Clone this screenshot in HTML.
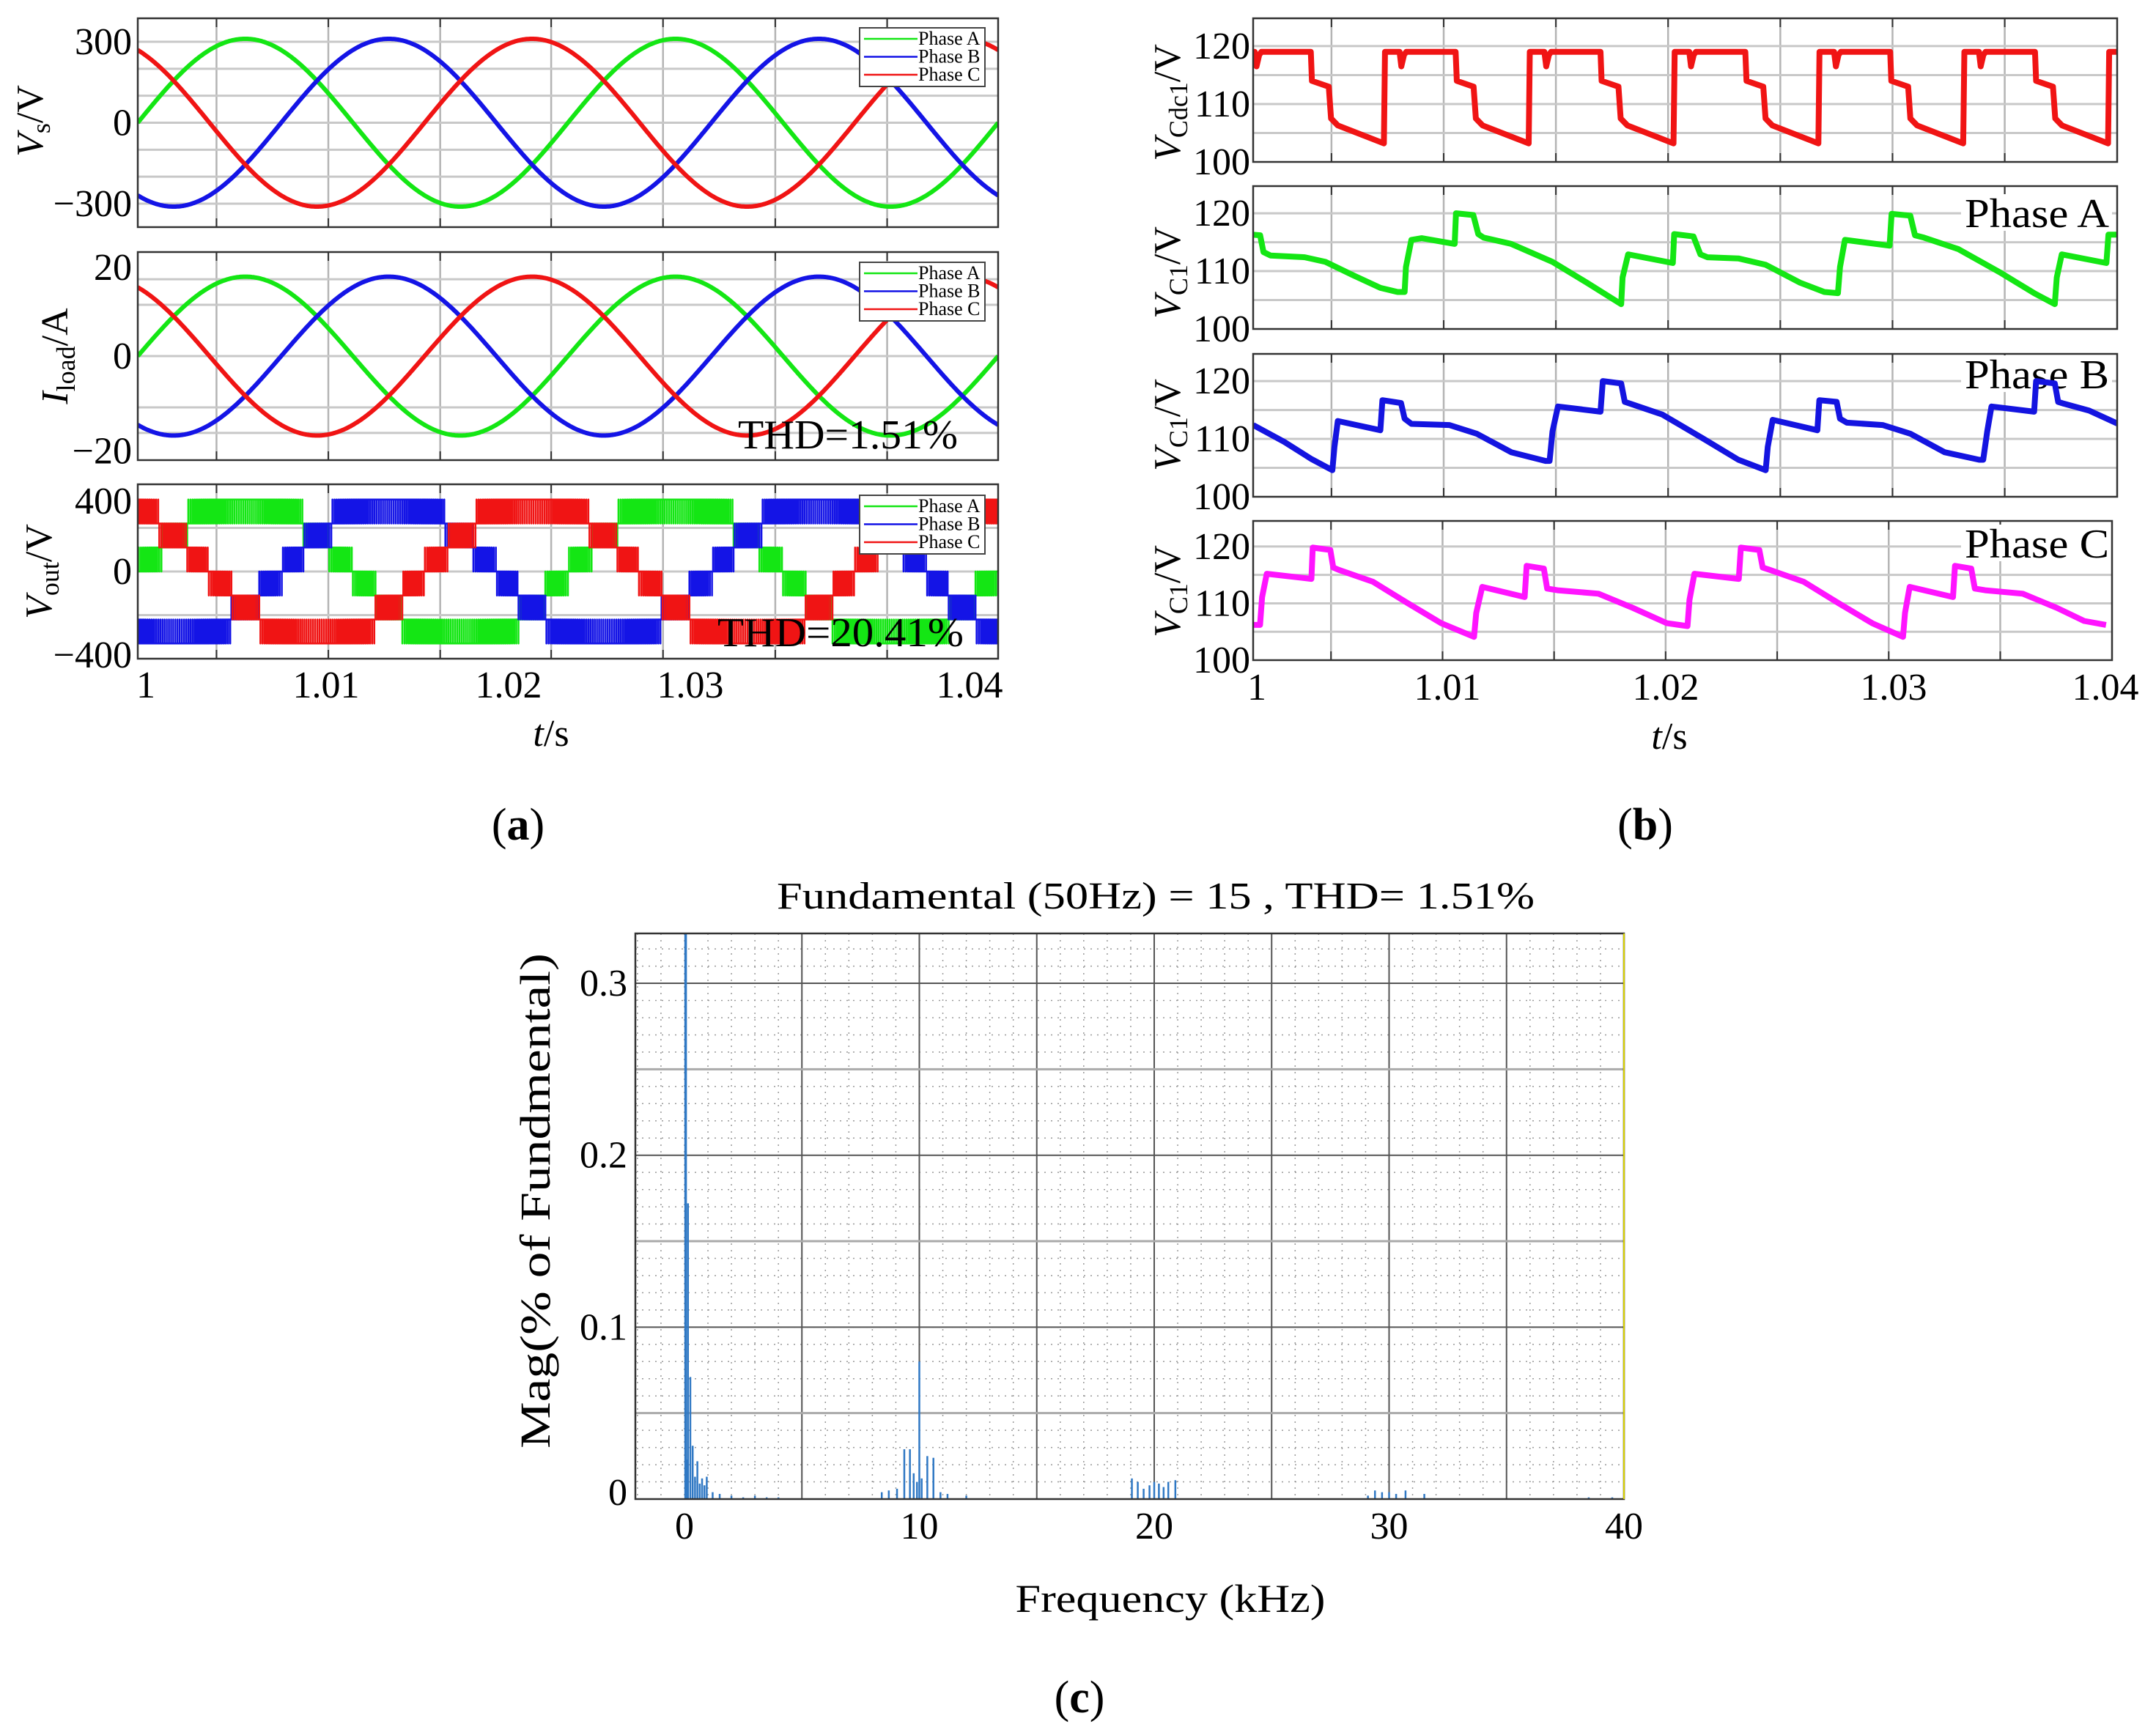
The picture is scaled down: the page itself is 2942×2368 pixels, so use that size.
<!DOCTYPE html>
<html><head><meta charset="utf-8"><style>
html,body{margin:0;padding:0;background:#fff}
svg{display:block}
text{font-family:"Liberation Serif",serif;fill:#000}
</style></head><body>
<svg id="fig" width="2942" height="2368" viewBox="0 0 2942 2368" xmlns="http://www.w3.org/2000/svg">
<rect x="0" y="0" width="2942" height="2368" fill="#fff"/>
<g id="layer"></g>
<g font-size="52">
<text x="199" y="952" text-anchor="middle">1</text>
<text x="445" y="952" text-anchor="middle">1.01</text>
<text x="694" y="952" text-anchor="middle">1.02</text>
<text x="942" y="952" text-anchor="middle">1.03</text>
<text x="1323" y="952" text-anchor="middle">1.04</text>
</g>
<text x="752" y="1018" font-size="52" text-anchor="middle"><tspan font-style="italic">t</tspan>/s</text>
<text x="707" y="1146" font-size="62" text-anchor="middle">(<tspan font-weight="bold">a</tspan>)</text>
<text transform="translate(58,165) rotate(-90)" font-size="52" text-anchor="middle"><tspan font-style="italic">V</tspan><tspan font-size="36" dy="10">s</tspan><tspan dy="-10">/V</tspan></text>
<text transform="translate(92,486) rotate(-90)" font-size="52" text-anchor="middle"><tspan font-style="italic">I</tspan><tspan font-size="36" dy="10">load</tspan><tspan dy="-10">/A</tspan></text>
<text transform="translate(70,780) rotate(-90)" font-size="52" text-anchor="middle"><tspan font-style="italic">V</tspan><tspan font-size="36" dy="10">out</tspan><tspan dy="-10">/V</tspan></text>
<g font-size="52">
<text x="1715" y="955" text-anchor="middle">1</text>
<text x="1975" y="955" text-anchor="middle">1.01</text>
<text x="2273" y="955" text-anchor="middle">1.02</text>
<text x="2584" y="955" text-anchor="middle">1.03</text>
<text x="2873" y="955" text-anchor="middle">1.04</text>
</g>
<text x="2278" y="1022" font-size="52" text-anchor="middle"><tspan font-style="italic">t</tspan>/s</text>
<text x="2245" y="1146" font-size="62" text-anchor="middle">(<tspan font-weight="bold">b</tspan>)</text>
<text transform="translate(1610,140) rotate(-90)" font-size="52" text-anchor="middle"><tspan font-style="italic">V</tspan><tspan font-size="36" dy="10">Cdc1</tspan><tspan dy="-10">/V</tspan></text>
<text transform="translate(1610,372) rotate(-90)" font-size="52" text-anchor="middle"><tspan font-style="italic">V</tspan><tspan font-size="36" dy="10">C1</tspan><tspan dy="-10">/V</tspan></text>
<text transform="translate(1610,580) rotate(-90)" font-size="52" text-anchor="middle"><tspan font-style="italic">V</tspan><tspan font-size="36" dy="10">C1</tspan><tspan dy="-10">/V</tspan></text>
<text transform="translate(1610,807) rotate(-90)" font-size="52" text-anchor="middle"><tspan font-style="italic">V</tspan><tspan font-size="36" dy="10">C1</tspan><tspan dy="-10">/V</tspan></text>
<text x="1577" y="1240" font-size="52" text-anchor="middle" textLength="1034" lengthAdjust="spacingAndGlyphs">Fundamental (50Hz) = 15 , THD= 1.51%</text>
<text transform="translate(750,1639) rotate(-90)" font-size="58" text-anchor="middle" textLength="676" lengthAdjust="spacingAndGlyphs">Mag(% of  Fundmental)</text>
<text x="1597" y="2200" font-size="54" text-anchor="middle" textLength="423" lengthAdjust="spacingAndGlyphs">Frequency (kHz)</text>
<text x="1473" y="2337" font-size="62" text-anchor="middle">(<tspan font-weight="bold">c</tspan>)</text>
</svg>
<script>
// ---------- Panel (a) data ----------
const phaseNames = ['Phase A', 'Phase B', 'Phase C'];
const phaseShiftDeg = [0, -120, 120];
const gridFreqHz = [50];
const zeroCrossT = [1.0];
const vsAmplitude = [311];
const iLoadAmplitude = [15.5];
const dcLevelV = [110];
const cellCount = [3];
const carrierHz = [10000];
const thdText = ['THD=1.51%', 'THD=20.41%'];
const aYTicksVs = [300, 0, -300];
const aYTickLabelsVs = ['300', '0', '\u2212300'];
const aYTicksI = [17.3, 0, -18.5];
const aYTickLabelsI = ['20', '0', '\u221220'];
const aYTicksV = [323, 0, -383];
const aYTickLabelsV = ['400', '0', '\u2212400'];
const aGridT = [1.00366, 1.00886, 1.01406, 1.01922, 1.02442, 1.02964, 1.03484];
// ---------- Panel (b) data ----------
const bYTicks = [120, 110, 100];
const bGridT = [1.00499, 1.00999, 1.01499, 1.01999, 1.02499, 1.02999, 1.03499];
const vcdcPeriod = [0.006454];
const vcdcFirstRise = [1.00087];
const vcdcTemplateT = [0, 0.00005, 0.0007, 0.00078, 0.0009, 0.001, 0.0032, 0.00325, 0.0040, 0.0041, 0.0044, 0.006454];
const vcdcTemplateV = [103.2, 119, 119, 116.5, 118.5, 119, 119, 114, 113, 107.5, 106.3, 103.2];
const vcAT = [1.0015,1.00181,1.00196,1.00227,1.0038,1.00472,1.00595,1.00717,1.00794,1.00825,1.00831,1.00855,1.00901,1.01048,1.01054,1.01131,1.01153,1.01177,1.013,1.01484,1.01637,1.0179,1.01796,1.01821,1.0202,1.02026,1.02112,1.02143,1.02174,1.02312,1.02434,1.02587,1.02695,1.02756,1.02765,1.02787,1.02986,1.02995,1.03078,1.03099,1.03139,1.03293,1.03477,1.0363,1.03722,1.03731,1.03753,1.03952,1.03961,1.04004];
const vcAV = [116.3,116.2,113.3,112.7,112.4,111.6,109.3,107.1,106.4,106.4,110.7,115.4,115.7,114.7,120,119.7,116.4,115.8,114.7,111.6,108,104.3,108.9,112.9,111.4,116.4,116,112.9,112.4,112.2,111.1,108,106.4,106.2,110.7,115.4,114.4,119.9,119.6,116.2,115.8,113.8,109.8,106.2,104.3,108.9,112.9,111.4,116.3,116.3];
const vcBT = [1.0015,1.00288,1.00411,1.00503,1.00512,1.00527,1.00717,1.00726,1.00809,1.00825,1.00855,1.01024,1.01146,1.013,1.01453,1.01471,1.01484,1.01508,1.01698,1.01708,1.0179,1.01806,1.0183,1.01974,1.02158,1.02312,1.02434,1.02443,1.02465,1.02664,1.02673,1.0275,1.02765,1.02796,1.02955,1.03078,1.03231,1.03385,1.03403,1.03421,1.0344,1.0363,1.03639,1.03722,1.03737,1.03762,1.03875,1.04004];
const vcBV = [112.4,109.5,106.5,104.6,108.6,113.1,111.5,116.7,116.2,113.5,112.6,112.4,110.9,107.7,106.2,106.2,111.3,115.6,114.7,120,119.6,116.4,116.1,114.2,110,106.4,104.6,108.6,113.3,111.5,116.7,116.4,113.5,112.8,112.4,110.9,107.7,106.4,106.4,111.3,115.6,114.7,120,119.6,116.4,116.1,114.9,112.6];
const vcCT = [1.0015,1.00181,1.0019,1.00211,1.00411,1.00417,1.00496,1.00509,1.00533,1.00687,1.0084,1.00993,1.0114,1.0115,1.01177,1.01367,1.01376,1.01453,1.01468,1.01514,1.01698,1.01852,1.02005,1.02097,1.02106,1.02128,1.02327,1.02336,1.02419,1.02434,1.02465,1.02618,1.02771,1.02925,1.03063,1.03072,1.03093,1.03287,1.03296,1.03369,1.03385,1.03431,1.036,1.03753,1.03875,1.03973];
const vcCV = [106.2,106.2,111.1,115.2,114.3,119.8,119.4,116.3,115.9,113.8,110.1,106.5,104.1,108.3,112.9,111.1,116.6,116.1,112.6,112.3,111.7,109.2,106.5,106,110.6,115.2,114.3,119.8,119.4,116.3,115.9,113.8,110.1,106.5,104.1,108.3,112.9,111.1,116.6,116.1,112.6,112.3,111.7,109.2,106.9,106.2];
// ---------- Panel (c) data ----------
const specFreq = [0.05,0.1,0.15,0.25,0.35,0.45,0.55,0.65,0.75,0.85,0.95,1.2,1.5,2,2.5,3,3.5,4,8.4,8.7,9.05,9.36,9.6,9.76,9.9,10.0,10.1,10.34,10.6,10.9,11.2,12,19.05,19.3,19.55,19.8,20.0,20.2,20.4,20.6,20.9,29.1,29.4,29.7,30.0,30.3,30.7,31.5,38.5,39.5];
const specMag = [1.0,0.023,0.172,0.071,0.031,0.013,0.022,0.009,0.012,0.008,0.013,0.004,0.003,0.002,0.001,0.002,0.001,0.001,0.004,0.005,0.006,0.029,0.029,0.015,0.01,0.080,0.012,0.025,0.024,0.004,0.003,0.002,0.012,0.01,0.006,0.008,0.01,0.009,0.007,0.01,0.011,0.002,0.005,0.004,0.004,0.003,0.005,0.003,0.001,0.001];
const cXTicks = [0, 10, 20, 30, 40];
const cYTicks = [0, 0.1, 0.2, 0.3];
const cYTickLabels = ['0', '0.1', '0.2', '0.3'];

const NS = 'http://www.w3.org/2000/svg';
const layer = document.getElementById('layer');
function mk(tag, attrs, parent) {
  const el = document.createElementNS(NS, tag);
  for (const k in attrs) el.setAttribute(k, attrs[k]);
  (parent || layer).appendChild(el);
  return el;
}
const colors = ['#14e614', '#1414e6', '#f01414'];

function makePanel(L, R, T, B, t0, t1, ymin, ymax, name) {
  const p = {L, R, T, B, t0, t1, ymin, ymax};
  p.x = t => L + (t - t0) / (t1 - t0) * (R - L);
  p.y = v => B - (v - ymin) / (ymax - ymin) * (B - T);
  p.g = mk('g', {});
  
  
  const clip = mk('clipPath', {id: 'clip-' + name});
  mk('rect', {x: L, y: T, width: R - L, height: B - T}, clip);
  p.clipId = 'clip-' + name;
  return p;
}
function grid(p, hvals, vtimes) {
  for (const t of vtimes) {
    const gl = mk('line', {x1: p.x(t), x2: p.x(t), y1: p.T, y2: p.B, stroke: '#b4b4b4', 'stroke-width': 2.5}, p.g);
    
    
    for (const yy of [p.T, p.B - 12]) {
      const tk = mk('line', {x1: p.x(t), x2: p.x(t), y1: yy, y2: yy + 12, stroke: '#333', 'stroke-width': 2}, p.g);
      
      
    }
  }
  for (const v of hvals) {
    const hl = mk('line', {x1: p.L, x2: p.R, y1: p.y(v), y2: p.y(v), stroke: '#c8c8c8', 'stroke-width': 3}, p.g);
    
    
  }
}
function frame(p) {
  const f = mk('rect', {x: p.L, y: p.T, width: p.R - p.L, height: p.B - p.T, fill: 'none', stroke: '#333', 'stroke-width': 2.5});
  
  
}
function yLabels(p, vals, labels, xRight) {
  vals.forEach((v, i) => {
    const t = mk('text', {x: xRight, y: p.y(v) + 17, 'font-size': 52, 'text-anchor': 'end'});
    t.textContent = labels[i];
    
    
  });
}
function curve(p, ts, vs, color, width, name) {
  const pts = ts.map((t, i) => p.x(t).toFixed(1) + ',' + p.y(vs[i]).toFixed(1)).join(' ');
  const pl = mk('polyline', {points: pts, fill: 'none', stroke: color, 'stroke-width': width, 'stroke-linejoin': 'round', 'clip-path': 'url(#' + p.clipId + ')'}, p.g);
  
  
}
function legend(p, y0) {
  const lg = mk('g', {});
  
  
  mk('rect', {x: 1173, y: y0, width: 171, height: 80, fill: '#fff', stroke: '#444', 'stroke-width': 2}, lg);
  phaseNames.forEach((n, i) => {
    const yy = y0 + 15 + i * 24.5;
    const ln = mk('line', {x1: 1179, x2: 1252, y1: yy, y2: yy, stroke: colors[i], 'stroke-width': 2.5}, lg);
    
    
    const tx = mk('text', {x: 1253, y: yy + 8, 'font-size': 26}, lg);
    tx.textContent = n;
    
    
  });
}
function sineSeries(p, amp, k) {
  const ts = [], vs = [];
  for (let t = p.t0; t <= p.t1 + 1e-9; t += 0.00005) {
    ts.push(t);
    vs.push(amp * Math.sin(2 * Math.PI * gridFreqHz[0] * (t - zeroCrossT[0]) + phaseShiftDeg[k] * Math.PI / 180));
  }
  return [ts, vs];
}

const A0 = 1.0, A1 = 1.04;
// ---- a1 ----
const a1 = makePanel(188, 1362, 25, 310, A0, A1, -387, 387, 'a1-source-voltage-plot');
grid(a1, [-300, -200, -100, 0, 100, 200, 300], aGridT);
[0, 1, 2].forEach(k => { const s = sineSeries(a1, vsAmplitude[0], k); curve(a1, s[0], s[1], colors[k], 6, 'vs-' + phaseNames[k].toLowerCase().replace(' ', '-')); });
frame(a1); yLabels(a1, aYTicksVs, aYTickLabelsVs, 180); legend(a1, 38);
// ---- a2 ----
const a2 = makePanel(188, 1362, 344, 628, A0, A1, -20.3, 20.3, 'a2-load-current-plot');
grid(a2, [-15, -10, 0, 10, 15], aGridT);
[0, 1, 2].forEach(k => { const s = sineSeries(a2, iLoadAmplitude[0], k); curve(a2, s[0], s[1], colors[k], 6, 'iload-' + phaseNames[k].toLowerCase().replace(' ', '-')); });
frame(a2); yLabels(a2, aYTicksI, aYTickLabelsI, 180); legend(a2, 358);
const thd1 = mk('text', {x: 1007, y: 612, 'font-size': 56, textLength: 300, lengthAdjust: 'spacingAndGlyphs'});
thd1.textContent = thdText[0];


// ---- a3 ----
const a3 = makePanel(188, 1362, 661, 899, A0, A1, -400, 400, 'a3-output-voltage-plot');
grid(a3, [-200, 0, 200], aGridT);
[0, 1, 2].forEach(k => {
  const ts = [], vs = [];
  const Tc = 1 / carrierHz[0];
  for (let t = A0; t < A1; t += Tc) {
    const r = cellCount[0] * Math.sin(2 * Math.PI * gridFreqHz[0] * (t + Tc / 2 - zeroCrossT[0]) + phaseShiftDeg[k] * Math.PI / 180);
    const lo = Math.floor(r), d = r - lo;
    const a = t + Tc * (1 - d) / 2, b = t + Tc * (1 + d) / 2;
    ts.push(t, a, a, b, b, t + Tc);
    vs.push(lo, lo, lo + 1, lo + 1, lo, lo);
  }
  curve(a3, ts, vs.map(v => v * dcLevelV[0]), colors[k], 2.5, 'vout-' + phaseNames[k].toLowerCase().replace(' ', '-'));
});
frame(a3); yLabels(a3, aYTicksV, aYTickLabelsV, 180); legend(a3, 676);
const thd2 = mk('text', {x: 979, y: 882, 'font-size': 56, textLength: 336, lengthAdjust: 'spacingAndGlyphs'});
thd2.textContent = thdText[1];



// ---- panel b ----
const B0 = 1.0015, B1 = 1.04;
const bPanels = [
  makePanel(1710, 2889, 25, 221, B0, B1, 100, 124.8, 'b1-vcdc1-plot'),
  makePanel(1710, 2889, 254, 449, B0, B1, 100, 124.7, 'b2-vc1-phase-a-plot'),
  makePanel(1710, 2889, 483, 678, B0, B1, 100, 124.7, 'b3-vc1-phase-b-plot'),
  makePanel(1710, 2882, 711, 901, B0, B1, 100, 124.5, 'b4-vc1-phase-c-plot')
];
bPanels.forEach(p => grid(p, [105, 110, 115, 120], bGridT));
[['Phase A', 291, 1], ['Phase B', 511, 2], ['Phase C', 742, 3]].forEach(([n, y, pi]) => {
  const bg = mk('rect', {x: 2676, y: y - 26, width: 206, height: 50, fill: '#fff'}, bPanels[pi].g);
  
  
  const t = mk('text', {x: 2681, y: y + 19, 'font-size': 56, textLength: 197, lengthAdjust: 'spacingAndGlyphs'}, bPanels[pi].g);
  t.textContent = n;
  
  
});
const vcdcT = [], vcdcV = [];
for (let r = vcdcFirstRise[0] - vcdcPeriod[0]; r < B1 + vcdcPeriod[0]; r += vcdcPeriod[0]) {
  vcdcTemplateT.forEach((dt, i) => { vcdcT.push(r + dt); vcdcV.push(vcdcTemplateV[i]); });
}
curve(bPanels[0], vcdcT, vcdcV, '#f01414', 8, 'vcdc1-curve');
curve(bPanels[1], vcAT, vcAV, '#14e614', 8, 'vc1-phase-a-curve');
curve(bPanels[2], vcBT, vcBV, '#1414e0', 8, 'vc1-phase-b-curve');
curve(bPanels[3], vcCT, vcCV, '#ff14ff', 8, 'vc1-phase-c-curve');
bPanels.forEach(p => { frame(p); yLabels(p, bYTicks, bYTicks.map(String), 1706); });

// ---- panel c ----
const cL = 867, cR = 2216, cT = 1274, cB = 2046, cXmin = -2.09, cXmax = 40, cYmax = 0.329;
const cx = f => cL + (f - cXmin) / (cXmax - cXmin) * (cR - cL);
const cy = m => cB - Math.min(m, cYmax) / cYmax * (cB - cT);
const cg = mk('g', {});


for (let f = -2; f <= 40; f += 1) {
  const l = mk('line', {x1: cx(f), x2: cx(f), y1: cT, y2: cB, stroke: '#9a9a9a', 'stroke-width': 1.5, 'stroke-dasharray': '2 7'}, cg);
  
  
}
for (let m = 0.01; m < cYmax; m += 0.01) {
  const l = mk('line', {x1: cL, x2: cR, y1: cy(m), y2: cy(m), stroke: '#9a9a9a', 'stroke-width': 1.5, 'stroke-dasharray': '2 7'}, cg);
  
  
}
for (let f = 5; f < 40; f += 5) {
  const l = mk('line', {x1: cx(f), x2: cx(f), y1: cT, y2: cB, stroke: '#555', 'stroke-width': 2}, cg);
  
  
}
[0.05, 0.1, 0.15, 0.2, 0.25, 0.3].forEach((m, i) => {
  const l = mk('line', {x1: cL, x2: cR, y1: cy(m), y2: cy(m), stroke: i % 2 ? '#555' : '#aaa', 'stroke-width': i % 2 ? 2 : 3}, cg);
  
  
});
specFreq.forEach((f, i) => {
  const s = mk('line', {x1: cx(f), x2: cx(f), y1: cB, y2: cy(specMag[i]), stroke: '#2f78c4', 'stroke-width': i === 0 ? 3.5 : 2.5}, cg);
  
  
});
const cf = mk('rect', {x: cL, y: cT, width: cR - cL, height: cB - cT, fill: 'none', stroke: '#333', 'stroke-width': 2.5}, cg);


const yl = mk('line', {x1: cR, x2: cR, y1: cT, y2: cB, stroke: '#d8d000', 'stroke-width': 2}, cg);


cXTicks.forEach(f => {
  const t = mk('text', {x: cx(f), y: 2100, 'font-size': 52, 'text-anchor': 'middle'});
  t.textContent = String(f);
  
  
});
cYTicks.forEach((m, i) => {
  const t = mk('text', {x: 856, y: cy(m) + (m === 0 ? 8 : 17), 'font-size': 52, 'text-anchor': 'end'});
  t.textContent = cYTickLabels[i];
  
  
});
</script>
</body></html>
